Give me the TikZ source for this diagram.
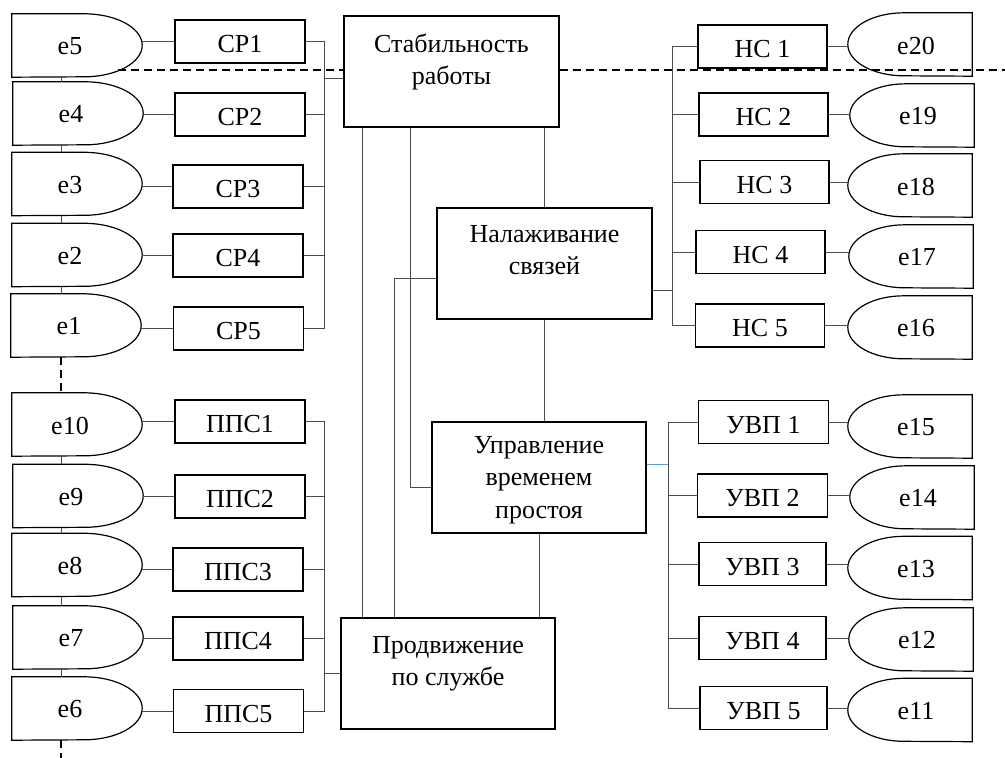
\documentclass[tikz,border=0pt]{standalone}
\usepackage{fontspec}
\setmainfont{Liberation Serif}
\usetikzlibrary{calc}
\newcommand\eL[4]{%
  \node[enode] (#1) at (#2,#3) {};
  \draw[eline] (#1.north west) -- ([xshift=-58pt]#1.north east) arc[start angle=90,end angle=-90,x radius=58pt,y radius=31.5pt] -- (#1.south west) -- cycle;
  \node[etext] (#1t) at ([xshift=-7pt,yshift=-1pt]#1.center) {#4};
}
\newcommand\eR[4]{%
  \node[enode, minimum width=124pt] (#1) at (#2,#3) {};
  \draw[eline] (#1.north east) -- ([xshift=56pt]#1.north west) arc[start angle=90,end angle=270,x radius=56pt,y radius=31.5pt] -- (#1.south east) -- cycle;
  \node[etext] (#1t) at ([xshift=6pt,yshift=-1pt]#1.center) {#4};
}
\tikzset{
  txt/.style={font=\fontsize{26}{32.5}\selectfont},
  box/.style={draw, line width=1.2pt, inner sep=0pt, txt},
  sbox/.style={box, minimum width=130pt, minimum height=43pt, text height=22pt, text depth=0pt},
  bbox/.style={box, minimum width=215pt, minimum height=111pt, align=center},
  enode/.style={inner sep=0pt, minimum width=130pt, minimum height=63pt},
  etext/.style={txt, inner sep=0pt},
  eline/.style={line width=1.2pt},
  conn/.style={line width=0.8pt, draw=black!70},
  blueconn/.style={line width=0.8pt, draw={rgb,255:red,91;green,155;blue,213}},
  dashline/.style={line width=1.3pt, dash pattern=on 8pt off 5pt}
}
\begin{document}
\begin{tikzpicture}[x=1pt,y=-1pt]
\useasboundingbox (0,0) rectangle (1005,758);
% left e shapes
\eL{e5}{77}{45.5}{e5}
\eL{e4}{78}{113.5}{e4}
\eL{e3}{77}{184}{e3}
\eL{e2}{77}{255}{e2}
\eL{e1}{76}{325.5}{e1}
\eL{e10}{77}{424.5}{e10}
\eL{e9}{78}{496}{e9}
\eL{e8}{77}{565}{e8}
\eL{e7}{78}{637.5}{e7}
\eL{e6}{77}{708.5}{e6}
% CP boxes
\node[sbox] (cp1) at (240,41.5) {СР1};
\node[sbox] (cp2) at (240,114.5) {СР2};
\node[sbox] (cp3) at (238,186.5) {СР3};
\node[sbox] (cp4) at (238,255.5) {СР4};
\node[sbox] (cp5) at (238.5,328.5) {СР5};
% PPS boxes
\node[sbox] (pp1) at (240,421.5) {ППС1};
\node[sbox] (pp2) at (240,496.5) {ППС2};
\node[sbox] (pp3) at (238,569.5) {ППС3};
\node[sbox] (pp4) at (238,638.5) {ППС4};
\node[sbox] (pp5) at (238.5,711) {ППС5};
% central boxes
\node[bbox] (stab) at (451.5,71.5) {\rule{0pt}{26pt}Стабильность\\работы\\\mbox{}};
\node[bbox] (nal) at (544.5,263.5) {\rule{0pt}{22pt}Налаживание\\связей\\\mbox{}};
\node[bbox, minimum width=214pt] (upr) at (539,477.5) {\rule{0pt}{22pt}Управление\\временем\\простоя};
\node[bbox, minimum width=214pt] (prod) at (448,673.5) {\rule{0pt}{24pt}Продвижение\\по службе\\\mbox{}};
% HC boxes
\node[sbox, minimum width=129pt] (hc1) at (762.5,46.5) {НС 1};
\node[sbox, minimum width=129pt] (hc2) at (763.5,114.5) {НС 2};
\node[sbox, minimum width=129pt] (hc3) at (764.5,182) {НС 3};
\node[sbox, minimum width=129pt] (hc4) at (760.5,252) {НС 4};
\node[sbox, minimum width=129pt] (hc5) at (760,325.5) {НС 5};
% UVP boxes
\node[sbox] (uv1) at (763.5,422) {УВП 1};
\node[sbox] (uv2) at (762.5,495.5) {УВП 2};
\node[sbox, minimum width=127pt] (uv3) at (762.5,564) {УВП 3};
\node[sbox, minimum width=127pt] (uv4) at (762.5,638) {УВП 4};
\node[sbox, minimum width=127pt] (uv5) at (763.5,708) {УВП 5};
% right e shapes
\eR{e20}{910}{44.5}{e20}
\eR{e19}{912}{115.5}{e19}
\eR{e18}{910}{185.5}{e18}
\eR{e17}{911}{256.5}{e17}
\eR{e16}{910}{327.5}{e16}
\eR{e15}{910}{426.5}{e15}
\eR{e14}{912}{497.5}{e14}
\eR{e13}{910}{568}{e13}
\eR{e12}{911}{639.5}{e12}
\eR{e11}{910}{710}{e11}
% helper coordinates
\coordinate (vx) at (61,0);
\coordinate (busA) at (324,0);
\coordinate (busB) at (672,0);
\coordinate (busC) at (668,0);
\coordinate (sj) at (324,78);
\coordinate (l1) at (362,0);
\coordinate (l2) at (410,0);
\coordinate (l3) at (394,0);
\coordinate (nj) at (0,278);
\coordinate (uj) at (0,487);
\coordinate (hj) at (0,290);
\coordinate (vj) at (0,464);
\coordinate (bot) at (61,758);
\coordinate (dA) at (118,70);
\coordinate (dB) at (1005,70);
% left e to boxes
\foreach \e/\b in {e5/cp1,e4/cp2,e3/cp3,e2/cp4,e1/cp5,e10/pp1,e9/pp2,e8/pp3,e7/pp4,e6/pp5}
  \draw[conn] (\b.west) -- (\b.west -| \e.east);
% vertical e chain
\foreach \a/\b in {e5/e4,e4/e3,e3/e2,e2/e1,e10/e9,e9/e8,e8/e7,e7/e6}
  \draw[conn] (\a.south -| vx) -- (\b.north -| vx);
\draw[dashline] (e1.south -| vx) -- (e10.north -| vx);
\draw[dashline] (e6.south -| vx) -- (bot);
% CP bus
\draw[conn] (cp1.east) -- (cp1.east -| busA) -- (cp5.east -| busA) -- (cp5.east);
\foreach \b in {cp2,cp3,cp4} \draw[conn] (\b.east) -- (\b.east -| busA);
\draw[conn] (sj) -- (sj -| stab.west);
% PPS bus
\draw[conn] (pp1.east) -- (pp1.east -| busA) -- (pp5.east -| busA) -- (pp5.east);
\foreach \b in {pp2,pp3,pp4} \draw[conn] (\b.east) -- (\b.east -| busA);
\draw[conn] (prod.west) -- (prod.west -| busA);
% central links
\draw[conn] (l1 |- stab.south) -- (l1 |- prod.north);
\draw[conn] (l2 |- stab.south) -- (l2 |- uj) -- (upr.west |- uj);
\draw[conn] (stab.south -| nal.north) -- (nal.north);
\draw[conn] (nal.west |- nj) -- (l3 |- nj) -- (l3 |- prod.north);
\draw[conn] (nal.south) -- (nal.south |- upr.north);
\draw[conn] (upr.south) -- (upr.south |- prod.north);
% HC bus
\draw[conn] (hc1.west) -- (hc1.west -| busB) -- (hc5.west -| busB) -- (hc5.west);
\foreach \b in {hc2,hc3,hc4} \draw[conn] (\b.west) -- (\b.west -| busB);
\draw[conn] (nal.east |- hj) -- (busB |- hj);
\foreach \b/\e in {hc1/e20,hc2/e19,hc3/e18,hc4/e17,hc5/e16,uv1/e15,uv2/e14,uv3/e13,uv4/e12,uv5/e11}
  \draw[conn] (\b.east) -- (\b.east -| \e.west);
% UVP bus
\draw[conn] (uv1.west) -- (uv1.west -| busC) -- (uv5.west -| busC) -- (uv5.west);
\foreach \b in {uv2,uv3,uv4} \draw[conn] (\b.west) -- (\b.west -| busC);
\draw[blueconn] (upr.east |- vj) -- (busC |- vj);
% dashed horizontal
\draw[dashline] (dA) -- (dA -| stab.west);
\draw[dashline] (dA -| stab.east) -- (dB);
\end{tikzpicture}
\end{document}
